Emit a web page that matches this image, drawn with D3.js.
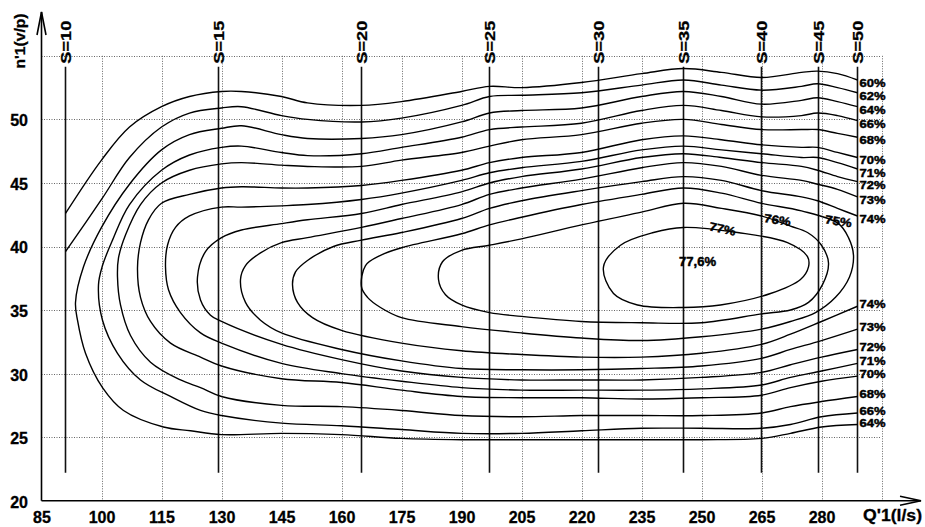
<!DOCTYPE html>
<html>
<head>
<meta charset="utf-8">
<script src="https://cdn.jsdelivr.net/npm/d3@7/dist/d3.min.js"></script>
<style>
    body { margin: 0; background: #fff; }
    svg { display: block; font-family: "Liberation Sans", Arial, sans-serif; font-weight: bold; }
</style>
</head>
<body>
<svg id="chart" width="925" height="527"></svg>
<script>
// оси
var qTicks = [85, 100, 115, 130, 145, 160, 175, 190, 205, 220, 235, 250, 265, 280];
var qGrid = [100, 115, 130, 145, 160, 175, 190, 205, 220, 235, 250, 265, 280, 295];
var nTicks = [20, 25, 30, 35, 40, 45, 50];
var nGrid = [25, 30, 35, 40, 45, 50, 55];

// линии открытия S
var sLabels = ["S=10", "S=15", "S=20", "S=25", "S=30", "S=35", "S=40", "S=45", "S=50"];
var sFlow = [91, 129.25, 165, 197, 224.25, 245.5, 265, 279.25, 289];
var sSpan = [22.2, 54.15];

// изолинии КПД, точки [Q'1, n'1]
var eff60 = [[289, 53.1], [284, 53.6], [279, 53.8], [275, 53.7], [265, 53.3], [255, 53.7], [245.5, 54.0], [235, 53.6], [220, 52.9], [205, 52.5], [197, 52.6], [190, 52.2], [175, 51.4], [165, 51.1], [151.5, 51.3], [145, 51.8], [135, 52.2], [130, 52.2], [122, 51.8], [115, 51.0], [107, 49.4], [100, 46.8], [91, 42.6]];
var eff62 = [[289, 52.1], [284, 52.5], [279, 52.8], [275, 52.6], [265, 52.3], [255, 52.7], [245.5, 53.1], [235, 52.7], [220, 52.1], [205, 51.9], [197, 51.8], [190, 51.1], [175, 50.1], [165, 49.8], [151.5, 50.0], [145, 50.3], [135, 51.0], [130, 50.9], [122, 50.5], [115, 49.4], [107, 47.0], [100, 43.7], [91, 39.6]];
var eff64 = [[289, 51.0], [284, 51.4], [279, 51.7], [275, 51.5], [265, 51.2], [255, 51.8], [245.5, 52.2], [235, 51.8], [220, 50.9], [205, 50.7], [197, 50.5], [190, 49.8], [175, 48.8], [165, 48.5], [151.5, 48.5], [145, 48.8], [135, 49.5], [130, 49.3], [122, 48.8], [115, 47.6], [107, 44.9], [100, 41.5], [95.5, 38.4], [93.5, 35.6],
    [94, 34.2], [96, 31.6], [100.25, 28.9], [105.5, 27.1], [115.5, 25.8], [122.25, 25.5], [130, 25.2], [145, 25.3], [160, 25.2], [175, 24.9], [190, 24.8], [205, 24.8], [220, 24.8], [235, 24.8], [250, 24.8], [265, 24.9], [272.25, 25.3], [280, 25.8], [289, 26.0]];
var eff66 = [[289, 49.9], [284, 50.3], [279, 50.5], [275, 50.3], [265, 50.2], [255, 50.7], [245.5, 51.1], [235, 50.7], [220, 49.7], [205, 49.4], [197, 49.2], [190, 48.6], [175, 47.8], [165, 47.3], [151.5, 47.15], [145, 47.4], [135, 47.9], [130, 47.8], [122, 47.2], [115, 46.0], [107, 43.3], [102.75, 40.5], [100.25, 38.5], [99.25, 37.0],
    [100.25, 34.2], [104, 31.6], [109.75, 29.5], [117.25, 28.2], [124.75, 27.1], [130, 26.7], [145, 26.1], [160, 25.9], [175, 25.6], [190, 25.3], [205, 25.3], [220, 25.5], [235, 25.7], [250, 25.7], [265, 25.7], [272.25, 26.0], [280, 26.6], [289, 26.9]];
var eff68 = [[289, 48.6], [284, 48.9], [279, 49.2], [275, 49.2], [265, 49.2], [255, 49.6], [245.5, 50.0], [235, 49.7], [220, 48.8], [205, 48.4], [197, 47.9], [190, 47.4], [175, 46.8], [165, 46.3], [151.5, 46.3], [145, 46.4], [135, 46.6], [130, 46.5], [122, 46.0], [115, 45.0], [109.75, 43.3], [106, 40.9], [104.25, 39.1], [104, 37.6],
    [104.75, 35.4], [107.25, 33.0], [112.25, 30.9], [119.75, 29.5], [124.75, 28.9], [130, 28.2], [145, 27.5], [160, 27.4], [175, 27.1], [190, 26.7], [205, 26.6], [220, 26.7], [235, 26.7], [250, 26.7], [265, 26.9], [272.25, 27.4], [280, 27.8], [289, 28.2]];
var eff70 = [[289, 47.0], [284, 47.4], [279, 47.8], [275, 47.8], [265, 48.0], [255, 48.4], [245.5, 48.7], [235, 48.4], [220, 47.4], [205, 47.0], [197, 46.6], [190, 46.0], [175, 45.2], [165, 44.8], [151.5, 44.6], [145, 44.6], [135, 44.7], [130, 44.6], [122, 44.1], [115, 43.4], [111.75, 42.1], [109.75, 40.3], [109, 38.3],
    [109.75, 36.0], [112.25, 34.1], [117.25, 32.4], [124.75, 31.3], [130, 30.6], [145, 29.6], [160, 29.3], [175, 28.7], [190, 28.2], [205, 28.1], [220, 28.1], [235, 28.0], [250, 28.1], [265, 28.3], [272.25, 28.9], [280, 29.4], [289, 29.8]];
var eff71 = [[289, 46.1], [284, 46.6], [279, 47.0], [275, 47.0], [265, 47.3], [255, 47.6], [245.5, 47.9], [235, 47.6], [220, 46.7], [205, 46.2], [197, 45.8], [190, 45.2], [175, 44.2], [165, 43.7], [151.5, 43.3], [145, 43.2], [135, 43.1], [130, 43.1], [122, 42.4], [118.5, 41.5], [116.5, 40.1], [116, 38.4],
    [116.75, 36.6], [119.75, 34.8], [124.75, 33.2], [130, 32.4], [145, 30.8], [160, 30.0], [175, 29.4], [190, 28.9], [205, 28.7], [220, 28.7], [235, 28.7], [250, 28.8], [265, 29.1], [272.25, 29.7], [280, 30.2], [289, 30.8]];
var eff72 = [[289, 45.1], [284, 45.5], [279, 46.0], [275, 46.3], [265, 46.6], [255, 47.0], [245.5, 47.3], [235, 47.0], [220, 46.1], [205, 45.5], [197, 45.0], [190, 44.3], [175, 43.3], [165, 42.6], [151.5, 42.1], [145, 41.8], [135, 41.3], [130, 40.7], [126, 39.6], [124, 37.6],
    [124.75, 35.8], [127.25, 34.6], [130, 34.1], [145, 32.3], [160, 31.1], [175, 30.2], [190, 29.7], [205, 29.5], [220, 29.5], [235, 29.5], [250, 29.7], [265, 30.1], [272.25, 30.7], [280, 31.3], [289, 31.9]];
var eff73 = [[289, 43.9], [284, 44.5], [279, 44.9], [275, 45.2], [265, 45.6], [255, 46.3], [245.5, 46.6], [235, 46.2], [220, 45.3], [205, 44.6], [197, 44.1], [190, 43.3], [175, 42.2], [165, 41.5], [151.5, 40.7], [145, 40.3], [139.75, 39.5], [136, 38.5], [134.75, 37.4],
    [136, 35.6], [139.75, 34.2], [145, 33.2], [160, 31.9], [175, 31.0], [190, 30.4], [205, 30.3], [220, 30.3], [235, 30.4], [250, 30.6], [265, 31.2], [272.25, 31.9], [280, 32.6], [289, 33.5]];
var eff74 = [[289, 42.4], [284, 43.0], [279, 43.6], [275, 43.9], [265, 44.4], [255, 45.2], [245.5, 45.5], [235, 45.1], [220, 44.4], [205, 43.6], [197, 43.0], [190, 42.2], [175, 41.1], [165, 40.5], [158, 40.0], [151.5, 38.9], [148.5, 38.0], [147.75, 37.0],
    [149, 35.6], [152.75, 34.4], [160, 33.4], [175, 32.4], [190, 31.8], [205, 31.5], [220, 31.3], [235, 31.3], [250, 31.6], [265, 32.3], [272.25, 33.1], [280, 34.1], [289, 35.3]];
var eff75 = [[165, 36.8], [166, 38.5], [169.75, 39.3], [175, 39.9], [190, 41.0], [197, 41.7], [205, 42.3], [220, 43.3], [235, 44.1], [245.5, 44.6], [255, 44.2], [265, 43.4], [275, 42.8], [284.25, 41.8], [286.75, 40.7], [288, 39.3], [287, 37.6], [283.5, 36.0], [278.5, 34.8], [272.25, 34.1], [265, 33.5], [250, 32.9], [235, 32.6], [220, 32.8], [205, 33.2], [190, 33.7], [175, 34.4], [169.75, 35.2], [166.5, 36.0]];
var eff76 = [[184.25, 37.4], [185.25, 38.8], [190, 39.7], [197, 40.1], [205, 40.6], [220, 41.7], [235, 42.7], [245.5, 43.4], [255, 43.0], [265, 42.4], [272.25, 41.6], [276.5, 41.1], [280, 40.1], [281.75, 38.7], [280.25, 37.0], [276.75, 35.6], [272.25, 35.0], [265, 34.7], [250, 34.0], [235, 34.0], [220, 34.1], [205, 34.5], [197, 34.8], [190, 35.4], [186, 36.2]];
var eff77 = [[225.5, 38.4], [229.75, 40.1], [238, 41.1], [245.5, 41.5], [259, 41.1], [271.5, 40.3], [276.5, 39.2], [276.75, 38.4], [274.75, 37.4], [267.25, 36.3], [254.75, 35.4], [245.5, 35.2], [234, 35.4], [228, 36.3]];

// подписи замкнутых изолиний и оптимума
var loopText = ["77%", "76%", "75%"];
var loopAt = [[255.25, 41.4], [269, 42.1], [284.25, 42.0]];
var peakText = "77,6%";
var peakAt = [249, 38.8];

var contours = [
    {label: "60%", pts: eff60}, {label: "62%", pts: eff62},
    {label: "64%", pts: eff64, both: true}, {label: "66%", pts: eff66, both: true},
    {label: "68%", pts: eff68, both: true}, {label: "70%", pts: eff70, both: true},
    {label: "71%", pts: eff71, both: true}, {label: "72%", pts: eff72, both: true},
    {label: "73%", pts: eff73, both: true}, {label: "74%", pts: eff74, both: true},
    {label: "75%", pts: eff75, closed: true}, {label: "76%", pts: eff76, closed: true},
    {label: "77%", pts: eff77, closed: true}
];

var svg = d3.select("#chart");

var x = d3.scaleLinear().domain([85, 295]).range([41.5, 881.5]);
var y = d3.scaleLinear().domain([20, 55]).range([500.7, 55.85]);

/**
 * Сетка
 */
var grid = svg.append("g")
    .attr("stroke", "#666")
    .attr("stroke-width", 1)
    .attr("stroke-dasharray", "1,1.5");
grid.selectAll(".gx")
    .data(qGrid)
    .enter().append("line")
    .attr("x1", function (d) { return Math.round(x(d)) + 0.5; })
    .attr("x2", function (d) { return Math.round(x(d)) + 0.5; })
    .attr("y1", y(55))
    .attr("y2", y(20));
grid.selectAll(".gy")
    .data(nGrid)
    .enter().append("line")
    .attr("x1", x(85))
    .attr("x2", x(295))
    .attr("y1", function (d) { return Math.round(y(d)) + 0.5; })
    .attr("y2", function (d) { return Math.round(y(d)) + 0.5; });

// подписи осей через d3.axis
var xAxis = svg.append("g")
    .attr("transform", "translate(0," + y(20) + ")")
    .call(d3.axisBottom(x).tickValues(qTicks).tickSize(0).tickPadding(10.5));
var yAxis = svg.append("g")
    .attr("transform", "translate(" + x(85) + ",0)")
    .call(d3.axisLeft(y).tickValues(nTicks).tickSize(0).tickPadding(13.5));
[xAxis, yAxis].forEach(function (a) {
    a.select(".domain").remove();
    a.selectAll("text")
        .attr("fill", "#000")
        .attr("stroke", "#000")
        .attr("stroke-width", 0.3)
        .style("font-family", "'Liberation Sans', Arial, sans-serif")
        .style("font-weight", "bold")
        .style("font-size", "16px");
});
yAxis.selectAll("text").attr("dy", "0.4em");

// линии осей со стрелками
var axes = svg.append("g")
    .attr("stroke", "#000")
    .attr("stroke-width", 1.6)
    .attr("fill", "none");
axes.append("line")
    .attr("x1", x(85)).attr("y1", y(20))
    .attr("x2", x(85)).attr("y2", 12);
axes.append("path")
    .attr("d", "M" + (x(85) - 4.5) + ",35L" + x(85) + ",12L" + (x(85) + 4.5) + ",35");
axes.append("line")
    .attr("x1", x(85)).attr("y1", y(20))
    .attr("x2", 921).attr("y2", y(20));
axes.append("path")
    .attr("d", "M900," + (y(20) - 4.5) + "L921," + y(20) + "L900," + (y(20) + 4.5));

svg.append("text")
    .attr("transform", "translate(25," + 41 + ") rotate(-90)")
    .attr("text-anchor", "middle")
    .attr("font-size", 15)
    .attr("stroke", "#000")
    .attr("stroke-width", 0.3)
    .attr("textLength", 55)
    .attr("lengthAdjust", "spacingAndGlyphs")
    .text("n'1(v/p)");
svg.append("text")
    .attr("x", 863)
    .attr("y", 521)
    .attr("font-size", 16)
    .attr("stroke", "#000")
    .attr("stroke-width", 0.3)
    .attr("textLength", 59)
    .attr("lengthAdjust", "spacingAndGlyphs")
    .text("Q'1(l/s)");

/**
 * Линии S
 */
var sGroup = svg.append("g");
sGroup.selectAll("line")
    .data(sFlow)
    .enter().append("line")
    .attr("x1", function (d) { return x(d); })
    .attr("x2", function (d) { return x(d); })
    .attr("y1", y(sSpan[0]))
    .attr("y2", y(sSpan[1]))
    .attr("stroke", "#111")
    .attr("stroke-width", 1.6);
sGroup.selectAll("text")
    .data(sFlow)
    .enter().append("text")
    .attr("transform", function (d) { return "translate(" + x(d) + "," + (y(sSpan[1]) - 3) + ") rotate(-90)"; })
    .attr("dy", "0.36em")
    .attr("font-size", 15)
    .attr("stroke", "#000")
    .attr("stroke-width", 0.3)
    .attr("textLength", 43)
    .attr("lengthAdjust", "spacingAndGlyphs")
    .text(function (d, i) { return sLabels[i]; });

/**
 * Изолинии
 */
var openLine = d3.line()
    .x(function (d) { return x(d[0]); })
    .y(function (d) { return y(d[1]); })
    .curve(d3.curveCatmullRom.alpha(0.5));
var closedLine = d3.line()
    .x(function (d) { return x(d[0]); })
    .y(function (d) { return y(d[1]); })
    .curve(d3.curveCatmullRomClosed.alpha(0.5));

svg.append("g")
    .selectAll("path")
    .data(contours)
    .enter().append("path")
    .attr("d", function (d) { return d.closed ? closedLine(d.pts) : openLine(d.pts); })
    .attr("fill", "none")
    .attr("stroke", "#000")
    .attr("stroke-width", 1.4);

// подписи на правом краю, раздвигаем чтобы не слипались
var topEnds = [], bottomEnds = [];
contours.forEach(function (c) {
    if (c.closed) return;
    var p = c.pts[0];
    topEnds.push({label: c.label, q: p[0], py: y(p[1]) + 3});
    if (c.both) {
        p = c.pts[c.pts.length - 1];
        bottomEnds.push({label: c.label, q: p[0], py: y(p[1]) - 2});
    }
});
function spread(list, gap) {
    list.sort(function (a, b) { return a.py - b.py; });
    for (var i = 1; i < list.length; i++) {
        if (list[i].py - list[i - 1].py < gap) list[i].py = list[i - 1].py + gap;
    }
    return list;
}
var ends = spread(topEnds, 12.5).concat(spread(bottomEnds, 12.5));
svg.append("g")
    .selectAll("text")
    .data(ends)
    .enter().append("text")
    .attr("x", function (d) { return x(d.q) + 2; })
    .attr("y", function (d) { return d.py; })
    .attr("dy", "0.36em")
    .attr("font-size", 11)
    .attr("stroke", "#000")
    .attr("stroke-width", 0.45)
    .attr("textLength", 26)
    .attr("lengthAdjust", "spacingAndGlyphs")
    .text(function (d) { return d.label; });

var tilt = [12, 9, 9];
svg.append("g")
    .selectAll("text")
    .data(loopAt)
    .enter().append("text")
    .attr("transform", function (d, i) { return "translate(" + x(d[0]) + "," + y(d[1]) + ") rotate(" + tilt[i] + ")"; })
    .attr("text-anchor", "middle")
    .attr("dy", "0.36em")
    .attr("font-size", 12)
    .attr("stroke", "#000")
    .attr("stroke-width", 0.45)
    .attr("textLength", 27)
    .attr("lengthAdjust", "spacingAndGlyphs")
    .text(function (d, i) { return loopText[i]; });
svg.append("text")
    .attr("x", x(peakAt[0]))
    .attr("y", y(peakAt[1]))
    .attr("text-anchor", "middle")
    .attr("dy", "0.36em")
    .attr("font-size", 12)
    .attr("stroke", "#000")
    .attr("stroke-width", 0.45)
    .attr("textLength", 37)
    .attr("lengthAdjust", "spacingAndGlyphs")
    .text(peakText);
</script>
</body>
</html>
